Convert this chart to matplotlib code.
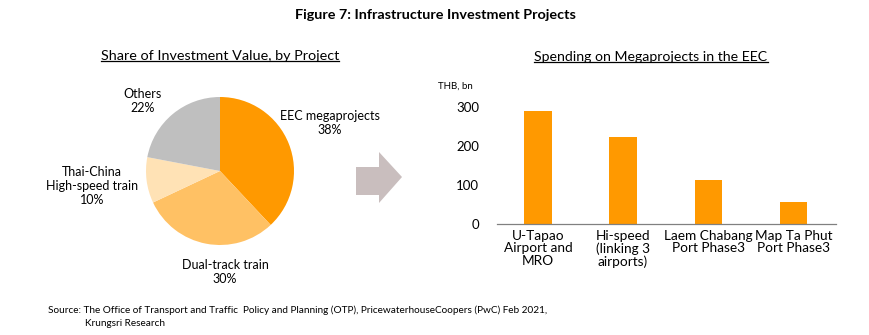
import matplotlib.pyplot as plt
from matplotlib.lines import Line2D
from matplotlib.patches import Polygon

plt.rcParams["font.family"] = ["Lato", "DejaVu Sans"]

# pie data (clockwise from 12 o'clock)
pie_labels = ["EEC megaprojects", "Dual-track train", "Thai-China\nHigh-speed train", "Others"]
pie_shares = [38, 30, 10, 22]
pie_colors = ["#FF9900", "#FFC164", "#FFE2B5", "#BFBFBF"]

# bar data
bar_cats = ["U-Tapao\nAirport and\nMRO", "Hi-speed\n(linking 3\nairports)",
            "Laem Chabang\nPort Phase3", "Map Ta Phut\nPort Phase3"]
bar_vals = [290, 224, 113, 56]
y_ticks = [0, 100, 200, 300]

W, H = 870, 335
fig = plt.figure(figsize=(W / 100, H / 100), dpi=100)


def px(x, y):
    return x / W, 1 - y / H


def underlined(x, y, s, size):
    t = fig.text(*px(x, y), s, ha="center", va="center", fontsize=size)
    fig.canvas.draw()
    bb = t.get_window_extent()
    fig.add_artist(Line2D([bb.x0 / W, bb.x1 / W], [(bb.y0 + 1) / H] * 2,
                          color="black", lw=0.9))


fig.text(*px(435, 15), "Figure 7: Infrastructure Investment Projects",
         ha="center", va="center", fontsize=10.4, fontweight="bold")
underlined(220, 56, "Share of Investment Value, by Project", 10.4)
underlined(651, 57, "Spending on Megaprojects in the EEC", 10.2)

# pie
cx, cy, r = 220, 171, 74
axp = fig.add_axes([(cx - r) / W, 1 - (cy + r) / H, 2 * r / W, 2 * r / H])
axp.pie(pie_shares, colors=pie_colors, startangle=90, counterclock=False,
        radius=1, wedgeprops=dict(linewidth=0))
axp.set_xlim(-1, 1)
axp.set_ylim(-1, 1)
axp.set_aspect("equal")
axp.axis("off")

label_pos = [(330, 123), (225, 272), (92, 186), (143, 101)]
for (lx, ly), name, v in zip(label_pos, pie_labels, pie_shares):
    fig.text(*px(lx, ly), f"{name}\n{v}%", ha="center", va="center",
             fontsize=9, linespacing=1.15)

# arrow
arrow = [(356, 167), (379, 167), (379, 152), (402, 177), (379, 203),
         (379, 195), (356, 195)]
fig.add_artist(Polygon([px(x, y) for x, y in arrow], closed=True,
                       facecolor="#C9BEBE", edgecolor="none",
                       transform=fig.transFigure))

# bars
axb = fig.add_axes([497 / W, 1 - 224 / H, 339 / W, 117 / H])
axb.bar(range(len(bar_vals)), bar_vals, width=0.32, color="#FF9900")
axb.set_xlim(-0.48, 3.5)
axb.set_ylim(0, 300)
axb.set_yticks(y_ticks)
axb.set_xticks(range(len(bar_cats)))
axb.set_xticklabels(bar_cats, fontsize=9.8, linespacing=1.05)
axb.tick_params(axis="y", length=0, pad=13, labelsize=9.5)
axb.tick_params(axis="x", length=0, pad=4)
for s in ["top", "right", "left"]:
    axb.spines[s].set_visible(False)
axb.spines["bottom"].set_color("#808080")
axb.spines["bottom"].set_linewidth(0.9)
axb.set_facecolor("none")
fig.text(*px(455, 86), "THB, bn", ha="center", va="center", fontsize=7)

# source
fig.text(*px(48, 310), "Source: The Office of Transport and Traffic  Policy and Planning (OTP), "
         "PricewaterhouseCoopers (PwC) Feb 2021,", ha="left", va="center", fontsize=7.2)
fig.text(*px(85, 324), "Krungsri Research", ha="left", va="center", fontsize=7.2)

fig.savefig("out.png", dpi=100)
